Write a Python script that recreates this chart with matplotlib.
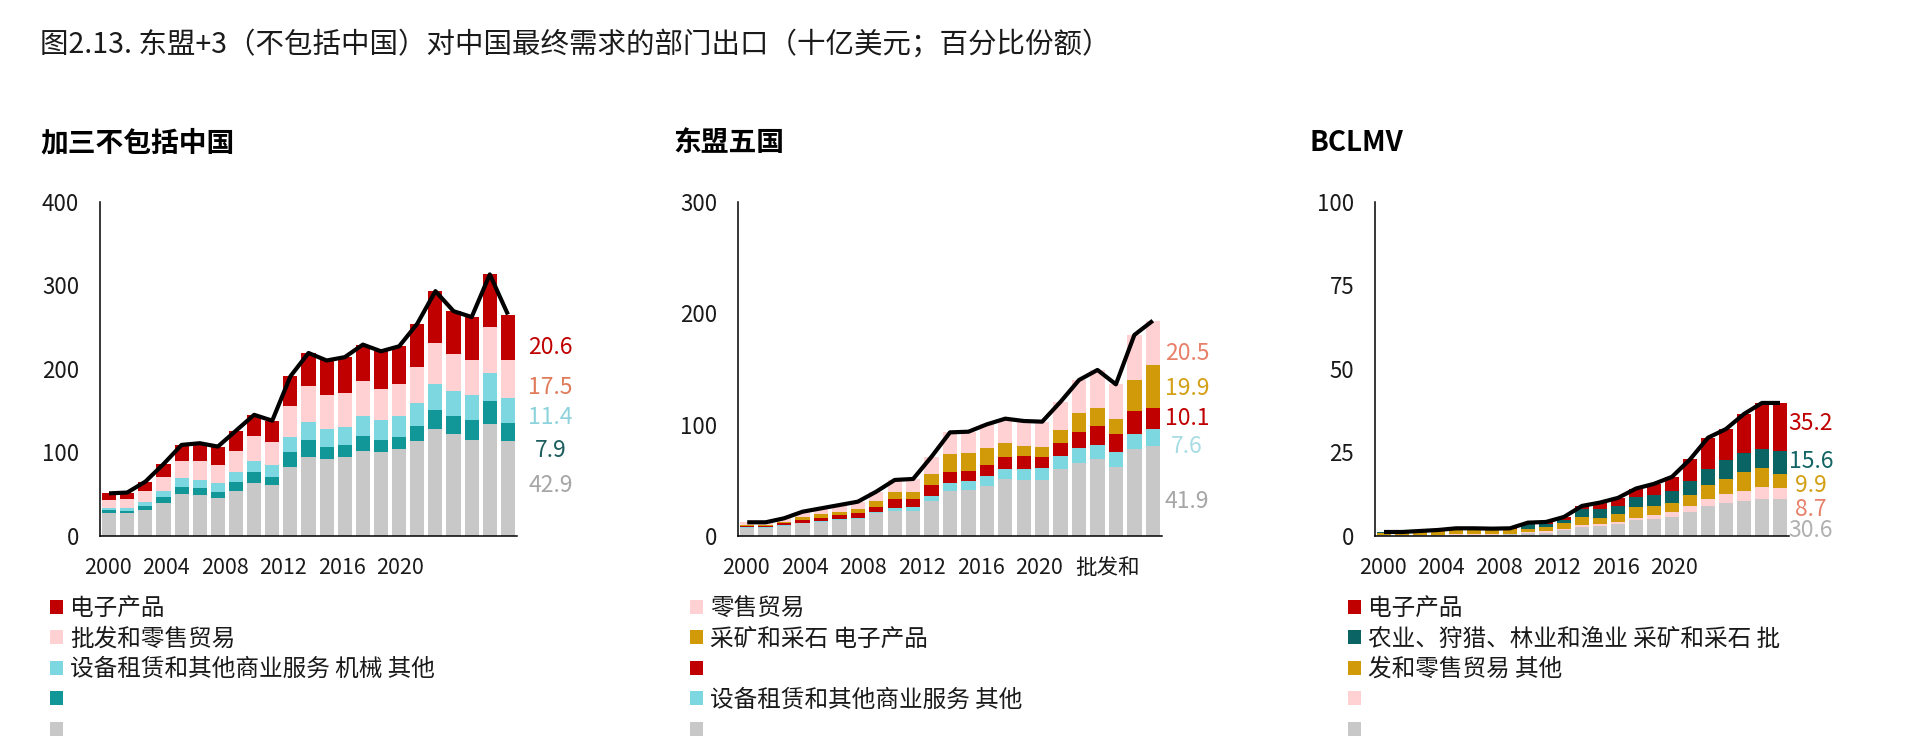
import numpy as np
import matplotlib.pyplot as plt

plt.rcParams['font.family'] = ['Noto Sans CJK SC', 'DejaVu Sans']

W, H = 1919, 752

years = list(range(2000, 2023))
year_labels = ['2000', '2004', '2008', '2012', '2016', '2020']

# colours
c_red = '#C00000'
c_pink = '#FFD1D3'
c_cyan = '#7DD7E0'
c_teal = '#119797'
c_dteal = '#0B6464'
c_gold = '#D09A08'
c_gray = '#C8C8C8'

# ---- 加三不包括中国 (bottom -> top), 十亿美元
p1_other = [27, 27, 31, 40, 50, 49, 46, 54, 64, 61, 83, 95, 92, 94, 102, 100, 104, 114, 128, 122, 115, 134, 114]
p1_machinery = [4, 3, 5, 7, 9, 8, 7, 11, 12, 10, 18, 20, 15, 15, 18, 15, 15, 18, 23, 21, 24, 27, 21]
p1_rental = [3, 4, 5, 7, 10, 10, 11, 12, 14, 14, 17, 21, 21, 22, 24, 24, 25, 27, 31, 30, 30, 34, 30]
p1_trade = [9, 10, 13, 17, 21, 23, 21, 25, 30, 27, 38, 44, 41, 40, 41, 37, 38, 43, 49, 45, 42, 55, 46]
p1_elec = [8, 8, 11, 15, 19, 21, 22, 24, 25, 26, 35, 39, 41, 43, 44, 45, 45, 52, 62, 51, 51, 63, 54]
p1_shares = ['20.6', '17.5', '11.4', '7.9', '42.9']

# ---- 东盟五国 (bottom -> top)
p2_other = [7.5, 7.5, 9.0, 11.4, 12.9, 14.4, 15.3, 20.9, 22.4, 22.4, 31.4, 40.7, 41.3, 45.2, 51.2, 50.3, 50.3, 59.8, 65.2, 68.8, 62.2, 77.8, 81.1]
p2_rental = [0.3, 0.3, 0.6, 0.6, 0.9, 0.6, 0.9, 0.9, 3.0, 3.3, 4.5, 7.2, 8.1, 8.9, 8.6, 10.1, 11.0, 12.0, 14.1, 12.9, 13.5, 13.7, 14.9]
p2_elec = [1.2, 1.2, 1.8, 2.4, 2.7, 3.8, 4.7, 4.5, 7.5, 7.2, 9.9, 9.2, 9.2, 9.6, 10.8, 11.4, 9.9, 12.0, 14.3, 17.3, 15.8, 21.0, 19.2]
p2_mining = [1.0, 1.0, 1.5, 2.4, 2.9, 3.0, 3.0, 5.1, 6.3, 6.9, 9.5, 16.2, 15.6, 15.6, 12.6, 9.3, 9.0, 11.3, 16.4, 16.2, 13.2, 27.5, 38.3]
p2_trade = [2.3, 2.3, 3.0, 5.0, 5.4, 6.0, 6.9, 8.4, 11.1, 11.4, 15.9, 19.7, 19.4, 20.9, 22.1, 22.1, 22.4, 25.4, 30.0, 33.8, 31.4, 40.4, 39.7]
p2_shares = ['20.5', '19.9', '10.1', '7.6', '41.9']

# ---- BCLMV (bottom -> top)
p3_other = [0.2, 0.2, 0.3, 0.3, 0.4, 0.4, 0.4, 0.5, 0.8, 1.0, 1.7, 2.8, 3.0, 3.7, 4.7, 5.2, 5.7, 7.3, 9.0, 10.0, 10.6, 11.2, 11.0]
p3_trade = [0.1, 0.1, 0.1, 0.1, 0.2, 0.2, 0.2, 0.2, 0.4, 0.4, 0.4, 0.4, 0.5, 0.6, 0.8, 1.1, 1.4, 1.7, 2.2, 2.6, 3.0, 3.4, 3.4]
p3_mining = [0.7, 0.7, 0.9, 1.1, 1.4, 1.4, 1.3, 1.3, 1.0, 1.3, 1.7, 2.5, 1.8, 2.2, 3.2, 2.7, 2.9, 3.2, 4.2, 4.6, 5.5, 5.8, 4.2]
p3_agri = [0.1, 0.1, 0.1, 0.2, 0.2, 0.2, 0.2, 0.2, 1.3, 1.0, 1.0, 2.3, 2.7, 2.4, 2.9, 3.2, 3.6, 4.4, 4.7, 5.6, 5.8, 5.7, 6.8]
p3_elec = [0.1, 0.1, 0.1, 0.1, 0.1, 0.1, 0.1, 0.1, 0.5, 0.5, 0.9, 1.0, 2.0, 2.5, 2.6, 3.4, 4.1, 6.3, 9.3, 9.2, 11.6, 13.7, 14.4]
p3_shares = ['35.2', '15.6', '9.9', '8.7', '30.6']

panels = [
    dict(title='加三不包括中国', left=100, right=517, ymax=400, yticks=[0, 100, 200, 300, 400],
         series=[p1_other, p1_machinery, p1_rental, p1_trade, p1_elec],
         colors=[c_gray, c_teal, c_cyan, c_pink, c_red],
         labels=['', '', '设备租赁和其他商业服务 机械 其他', '批发和零售贸易', '电子产品'],
         shares=p1_shares, share_y=[226, 178, 142, 102, 61],
         share_colors=[c_red, '#E07B5A', '#8DD3DC', '#1E5E5E', '#A6A6A6'],
         share_dx=2.36, tick_step=3.22, extra_tick=None, title_x=40, leg_x=50),
    dict(title='东盟五国', left=738, right=1162, ymax=300, yticks=[0, 100, 200, 300],
         series=[p2_other, p2_rental, p2_elec, p2_mining, p2_trade],
         colors=[c_gray, c_cyan, c_red, c_gold, c_pink],
         labels=['', '设备租赁和其他商业服务 其他', '', '采矿和采石 电子产品', '零售贸易'],
         shares=p2_shares, share_y=[164, 132, 105.6, 80, 30.8],
         share_colors=['#E8806A', '#D4A017', c_red, '#A8DCE4', '#A6A6A6'],
         share_dx=1.85, tick_step=3.18, extra_tick=(19.53, '批发和'), title_x=673, leg_x=690),
    dict(title='BCLMV', left=1375, right=1789, ymax=100, yticks=[0, 25, 50, 75, 100],
         series=[p3_other, p3_trade, p3_mining, p3_agri, p3_elec],
         colors=[c_gray, c_pink, c_gold, c_dteal, c_red],
         labels=['', '', '发和零售贸易 其他', '农业、狩猎、林业和渔业 采矿和采石 批', '电子产品'],
         shares=p3_shares, share_y=[33.7, 22.3, 15.0, 8.0, 1.7],
         share_colors=[c_red, '#136464', '#D4A017', '#E8806A', '#B0B0B0'],
         share_dx=1.72, tick_step=3.23, extra_tick=None, title_x=1310, leg_x=1348),
]

fig = plt.figure(figsize=(W / 100, H / 100), dpi=100)
fig.text(40 / W, 1 - 45 / H, '图2.13. 东盟+3（不包括中国）对中国最终需求的部门出口（十亿美元；百分比份额）',
         fontsize=20.5, fontweight='light', color='#1a1a1a', va='center', ha='left')

x = np.arange(len(years))
for p in panels:
    ax = fig.add_axes([p['left'] / W, 216 / H, (p['right'] - p['left']) / W, 334.3 / H])
    bottom = np.zeros(len(years))
    handles = []
    for vals, col in zip(p['series'], p['colors']):
        vals = np.array(vals, dtype=float)
        b = ax.bar(x, vals, 0.78, bottom=bottom, color=col, linewidth=0)
        handles.append(b)
        bottom = bottom + vals
    ax.plot(x, bottom, color='black', lw=3.0, solid_capstyle='butt', zorder=5)

    ax.set_xlim(-0.5, 22.5)
    ax.set_ylim(0, p['ymax'])
    ax.set_yticks(p['yticks'])
    ticks = [-0.06 + p['tick_step'] * k for k in range(len(year_labels))]
    tlabels = list(year_labels)
    if p['extra_tick']:
        ticks.append(p['extra_tick'][0])
        tlabels.append(p['extra_tick'][1])
    ax.set_xticks(ticks)
    ax.set_xticklabels(tlabels)
    ax.tick_params(axis='y', length=0, pad=15, labelsize=16, labelcolor='#1a1a1a')
    ax.tick_params(axis='x', length=0, pad=15, labelsize=15.5, labelcolor='#1a1a1a')
    for s in ['top', 'right']:
        ax.spines[s].set_visible(False)
    for s in ['left', 'bottom']:
        ax.spines[s].set_linewidth(1.1)
        ax.spines[s].set_color('black')

    # share labels at the right
    for txt, yy, col in zip(p['shares'], p['share_y'], p['share_colors']):
        ax.text(22 + p['share_dx'], yy, txt, color=col, fontsize=16.5,
                ha='center', va='center', clip_on=False)

    fig.text(p['title_x'] / W, 1 - 143 / H, p['title'], fontsize=20, fontweight='bold',
             color='black', va='center', ha='left')

    fig.legend(handles[::-1], p['labels'][::-1], loc='upper left',
               bbox_to_anchor=(p['leg_x'] / W, 1 - 597 / H), frameon=False,
               fontsize=17, handlelength=0.55, handleheight=0.55, handletextpad=0.3,
               labelspacing=0.32, borderpad=0, borderaxespad=0, labelcolor='#1a1a1a')

fig.savefig('out.png', dpi=100)
